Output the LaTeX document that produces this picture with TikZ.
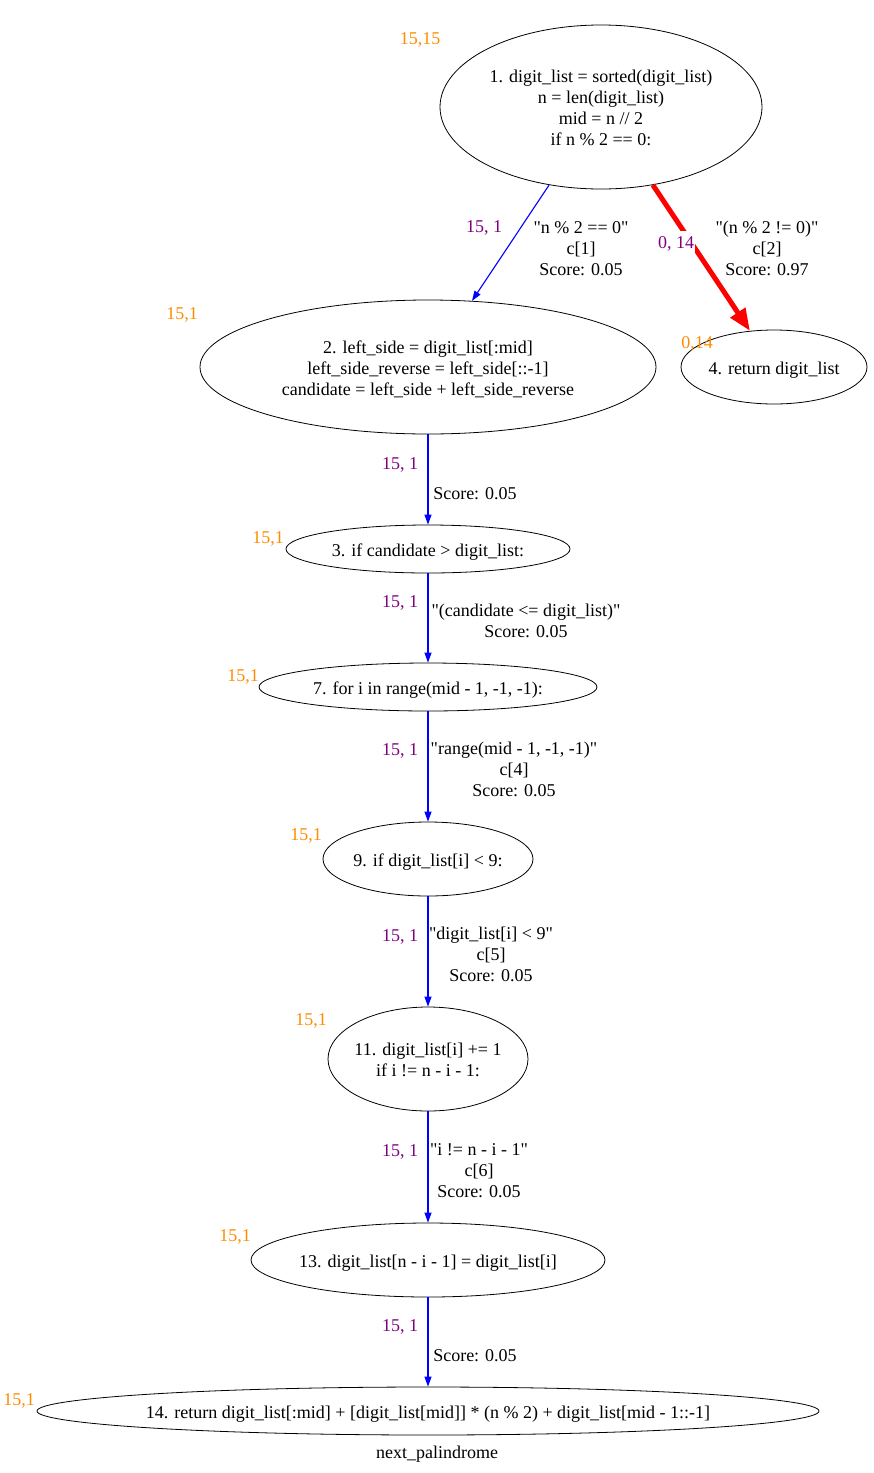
\documentclass[tikz,border=0pt]{standalone}
\usepackage{fontspec}
\setmainfont{Liberation Serif}[Ligatures=TeXOff]
\usetikzlibrary{shapes.geometric,arrows.meta}
\definecolor{tagorange}{RGB}{255,140,0}
\definecolor{cntpurple}{RGB}{128,0,128}
\newcommand{\stmttext}[1]{\makebox[0pt]{\raisebox{-3pt}[\height][\depth]{\begin{tabular}{@{}c@{}}#1\end{tabular}}}}

\begin{document}
\begin{tikzpicture}[
  x=1pt, y=-1pt,
  >={Triangle[length=10pt,width=7pt]},
  font=\fontsize{18}{21}\selectfont,
  stmt/.style={draw, ellipse, line width=0.8pt, inner sep=0pt},
  flow/.style={blue, line width=1.1pt},
  hot/.style={red, line width=5pt, -{Triangle[length=22pt,width=17pt]}},
  cnt/.style={text=cntpurple, inner sep=1pt, yshift=-1.5pt},
  tag/.style={text=tagorange, inner sep=0pt, yshift=-1.5pt},
  cond/.style={align=center, inner sep=0pt, yshift=-1.5pt}
]
  \useasboundingbox (0,0) rectangle (874,1473);

  % statements
  \node[stmt, minimum width=322, minimum height=164] (n1) at (601,107)
    {\stmttext{1. digit\_list = sorted(digit\_list)\\ n = len(digit\_list)\\ mid = n // 2\\ if n \% 2 == 0:}};
  \node[stmt, minimum width=456, minimum height=134] (n2) at (428,367)
    {\stmttext{2. left\_side = digit\_list[:mid]\\ left\_side\_reverse = left\_side[::-1]\\ candidate = left\_side + left\_side\_reverse}};
  \node[stmt, minimum width=186, minimum height=74] (n4) at (774,367)
    {\stmttext{4. return digit\_list}};
  \node[stmt, minimum width=284, minimum height=48] (n3) at (428,549)
    {\stmttext{3. if candidate > digit\_list:}};
  \node[stmt, minimum width=338, minimum height=48] (n7) at (428,687)
    {\stmttext{7. for i in range(mid - 1, -1, -1):}};
  \node[stmt, minimum width=210, minimum height=74] (n9) at (428,859)
    {\stmttext{9. if digit\_list[i] < 9:}};
  \node[stmt, minimum width=200, minimum height=104] (n11) at (428,1059)
    {\stmttext{11. digit\_list[i] += 1\\ if i != n - i - 1:}};
  \node[stmt, minimum width=354, minimum height=74] (n13) at (428,1260)
    {\stmttext{13. digit\_list[n - i - 1] = digit\_list[i]}};
  \node[stmt, minimum width=782, minimum height=48] (n14) at (428,1411)
    {\stmttext{14. return digit\_list[:mid] + [digit\_list[mid]] * (n \% 2) + digit\_list[mid - 1::-1]}};

  % counts on the statements
  \node[tag] (t1) at (420,38) {15,15};
  \node[tag] (t2) at (182,313) {15,1};
  \node[tag] (t4) at (697,342) {0,14};
  \node[tag] (t3) at (268,537) {15,1};
  \node[tag] (t7) at (243,675) {15,1};
  \node[tag] (t9) at (306,834) {15,1};
  \node[tag] (t11) at (311,1019) {15,1};
  \node[tag] (t13) at (235,1235) {15,1};
  \node[tag] (t14) at (19,1399) {15,1};

  \path[->]
    (n1) edge[flow] (n2)
         edge[hot] (n4)
    (n2) edge[flow] (n3)
    (n3) edge[flow] (n7)
    (n7) edge[flow] (n9)
    (n9) edge[flow] (n11)
    (n11) edge[flow] (n13)
    (n13) edge[flow] (n14);

  % edge labels
  \node[cnt] (c12) at (484,226) {15, 1};
  \node[cnt, fill=white, inner ysep=5pt] (c14) at (676,242) {0, 14};
  \node[cnt] (c23) at (400,463) {15, 1};
  \node[cnt] (c37) at (400,601) {15, 1};
  \node[cnt] (c79) at (400,749) {15, 1};
  \node[cnt] (c911) at (400,935) {15, 1};
  \node[cnt] (c1113) at (400,1150) {15, 1};
  \node[cnt] (c1314) at (400,1325) {15, 1};

  \node[cond] (e12) at (581,247) {"n \% 2 == 0"\\ c[1]\\ Score: 0.05};
  \node[cond] (e14) at (767,247) {"(n \% 2 != 0)"\\ c[2]\\ Score: 0.97};
  \node[cond] (e23) at (475,492) {Score: 0.05};
  \node[cond] (e37) at (526,619) {"(candidate <= digit\_list)"\\ Score: 0.05};
  \node[cond] (e79) at (514,768) {"range(mid - 1, -1, -1)"\\ c[4]\\ Score: 0.05};
  \node[cond] (e911) at (491,953) {"digit\_list[i] < 9"\\ c[5]\\ Score: 0.05};
  \node[cond] (e1113) at (479,1169) {"i != n - i - 1"\\ c[6]\\ Score: 0.05};
  \node[cond] (e1314) at (475,1354) {Score: 0.05};

  \node[yshift=-1.5pt] (title) at (437,1453) {next\_palindrome};
\end{tikzpicture}
\end{document}
